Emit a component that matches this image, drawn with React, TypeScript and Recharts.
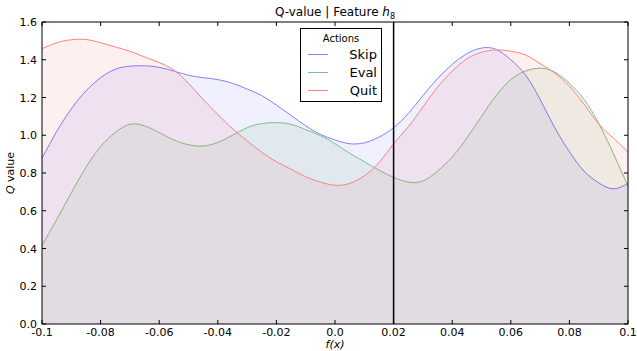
import { AreaChart, Area, XAxis, YAxis, ReferenceLine } from 'recharts';

const xs = [
  -0.1, -0.095, -0.09, -0.085, -0.08, -0.075, -0.07, -0.065, -0.06, -0.055, -0.05,
  -0.045, -0.04, -0.035, -0.03, -0.025, -0.02, -0.015, -0.01, -0.005, 0,
  0.005, 0.01, 0.015, 0.02, 0.025, 0.03, 0.035, 0.04, 0.045, 0.05,
  0.055, 0.06, 0.065, 0.07, 0.075, 0.08, 0.085, 0.09, 0.095, 0.1,
];
const skip = [
  0.878, 1.02, 1.14, 1.235, 1.305, 1.35, 1.366, 1.368, 1.36, 1.34, 1.318,
  1.305, 1.295, 1.275, 1.245, 1.21, 1.16, 1.105, 1.05, 1.005, 0.975,
  0.955, 0.96, 0.99, 1.04, 1.115, 1.21, 1.3, 1.375, 1.432, 1.462,
  1.455, 1.4, 1.32, 1.19, 1.04, 0.913, 0.81, 0.748, 0.716, 0.745,
];
const evalQ = [
  0.416, 0.553, 0.695, 0.83, 0.94, 1.015, 1.058, 1.05, 1.014, 0.975, 0.95,
  0.943, 0.962, 1.0, 1.04, 1.062, 1.067, 1.058, 1.03, 0.998, 0.955,
  0.905, 0.86, 0.815, 0.777, 0.752, 0.758, 0.81, 0.885, 0.985, 1.1,
  1.21, 1.295, 1.34, 1.355, 1.335, 1.275, 1.19, 1.063, 0.904, 0.73,
];
const quit = [
  1.459, 1.49, 1.506, 1.507, 1.49, 1.468, 1.445, 1.415, 1.385, 1.345, 1.275,
  1.19, 1.11, 1.035, 0.97, 0.91, 0.86, 0.82, 0.78, 0.752, 0.735,
  0.745, 0.785, 0.855, 0.955, 1.045, 1.15, 1.255, 1.34, 1.405, 1.44,
  1.452, 1.445, 1.425, 1.38, 1.33, 1.26, 1.165, 1.06, 0.985, 0.91,
];

const xTicks = [-0.1, -0.08, -0.06, -0.04, -0.02, 0, 0.02, 0.04, 0.06, 0.08, 0.1];
const xTickLabels = ['-0.1', '-0.08', '-0.06', '-0.04', '-0.02', '0.0', '0.02', '0.04', '0.06', '0.08', '0.1'];
const yTicks = [0, 0.2, 0.4, 0.6, 0.8, 1.0, 1.2, 1.4, 1.6];
const marker = 0.02;

const series = [
  { key: 'Skip', line: '#8080ff', fill: '#0000ff' },
  { key: 'Eval', line: '#80c080', fill: '#008000' },
  { key: 'Quit', line: '#ff8080', fill: '#ff0000' },
];

const data = xs.map((x, i) => ({ x, Skip: skip[i], Eval: evalQ[i], Quit: quit[i] }));

const FONT = '"DejaVu Sans", sans-serif';
const TICK_LEN = 4;

function xLabel(v: number) {
  const i = xTicks.findIndex((t) => Math.abs(t - v) < 1e-9);
  return i >= 0 ? xTickLabels[i] : String(v);
}

const BottomTick = (p: any) => (
  <text x={p.x} y={p.y + 9} textAnchor="middle" fontSize={11} fill="#000" fontFamily={FONT}>
    {xLabel(p.payload.value)}
  </text>
);

const LeftTick = (p: any) => (
  <text x={p.x} y={p.y + 4} textAnchor="end" fontSize={11} fill="#000" fontFamily={FONT}>
    {p.payload.value.toFixed(1)}
  </text>
);

// inward tick marks on both ends of a reference line (matplotlib style)
const VTickMarks = (p: any) => {
  const top = Math.min(p.y1, p.y2);
  const bottom = Math.max(p.y1, p.y2);
  return (
    <g>
      <path d={`M${p.x1},${top}V${top + TICK_LEN}`} stroke="#000" fill="none" />
      <path d={`M${p.x1},${bottom}V${bottom - TICK_LEN}`} stroke="#000" fill="none" />
    </g>
  );
};

const HTickMarks = (p: any) => {
  const left = Math.min(p.x1, p.x2);
  const right = Math.max(p.x1, p.x2);
  return (
    <g>
      <path d={`M${left},${p.y1}H${left + TICK_LEN}`} stroke="#000" fill="none" />
      <path d={`M${right},${p.y1}H${right - TICK_LEN}`} stroke="#000" fill="none" />
    </g>
  );
};

export default function App() {
  return (
    <div style={{ position: 'absolute', left: 0, top: 0, width: 637, height: 351, background: '#fff' }}>
      <AreaChart width={637} height={351} data={data} margin={{ top: 21, right: 8, bottom: 0, left: 0 }}>
        <XAxis
          dataKey="x"
          type="number"
          domain={[-0.1, 0.1]}
          ticks={xTicks}
          interval={0}
          height={27}
          tickSize={0}
          tickMargin={3}
          tickLine={false}
          stroke="#000"
          tick={BottomTick}
          label={(props: any) => {
            const vb = props.viewBox;
            return (
              <text x={vb.x + vb.width / 2} y={348} textAnchor="middle" fontSize={11} fontStyle="italic" fontFamily={FONT} fill="#000">
                f(x)
              </text>
            );
          }}
        />
        <XAxis
          xAxisId="top"
          orientation="top"
          dataKey="x"
          type="number"
          domain={[-0.1, 0.1]}
          ticks={xTicks}
          height={1}
          tickSize={0}
          tickLine={false}
          tick={false}
          stroke="#000"
          label={(props: any) => {
            const vb = props.viewBox;
            return (
              <text x={vb.x + vb.width / 2} y={16} textAnchor="middle" fontSize={12} fontFamily={FONT} fill="#000">
                Q-value | Feature <tspan fontStyle="italic">h</tspan>
                <tspan fontSize={8} dy={3}>8</tspan>
              </text>
            );
          }}
        />
        <YAxis
          type="number"
          domain={[0, 1.6]}
          ticks={yTicks}
          interval={0}
          width={42}
          tickSize={0}
          tickMargin={5}
          tickLine={false}
          stroke="#000"
          tick={LeftTick}
          label={(props: any) => {
            const vb = props.viewBox;
            const cy = vb.y + vb.height / 2;
            return (
              <text x={14} y={cy} transform={`rotate(-90 14 ${cy})`} textAnchor="middle" fontSize={11} fontFamily={FONT} fill="#000">
                <tspan fontStyle="italic">Q</tspan> value
              </text>
            );
          }}
        />
        <YAxis
          yAxisId="right"
          orientation="right"
          type="number"
          domain={[0, 1.6]}
          ticks={yTicks}
          width={1}
          tickSize={0}
          tickLine={false}
          tick={false}
          stroke="#000"
        />
        {series.map((s) => (
          <Area
            key={s.key}
            type="natural"
            dataKey={s.key}
            stroke={s.line}
            strokeWidth={1}
            fill={s.fill}
            fillOpacity={0.06}
            isAnimationActive={false}
            dot={false}
            activeDot={false}
          />
        ))}
        <Area
          xAxisId="top"
          yAxisId="right"
          type="natural"
          dataKey="Skip"
          stroke="none"
          fill="none"
          isAnimationActive={false}
          dot={false}
          activeDot={false}
          legendType="none"
        />
        {xTicks.map((t) => (
          <ReferenceLine key={`xt${t}`} x={t} stroke="#000" shape={VTickMarks} />
        ))}
        {yTicks.map((t) => (
          <ReferenceLine key={`yt${t}`} y={t} stroke="#000" shape={HTickMarks} />
        ))}
        <ReferenceLine x={marker} stroke="#000" strokeWidth={1.5} />
      </AreaChart>
      <div
        style={{
          position: 'absolute',
          left: 300,
          top: 28,
          width: 82,
          height: 74,
          border: '1px solid #000',
          background: '#fff',
          fontFamily: FONT,
          boxSizing: 'border-box',
        }}
      >
        <div style={{ textAlign: 'center', fontSize: 10, marginTop: 4, lineHeight: '12px' }}>Actions</div>
        {series.map((s) => (
          <div key={s.key} style={{ display: 'flex', alignItems: 'center', height: 18, padding: '0 4px 0 7px' }}>
            <div style={{ width: 20, height: 0, borderTop: `1.5px solid ${s.line}` }} />
            <div style={{ flex: 1, textAlign: 'right', fontSize: 13 }}>{s.key}</div>
          </div>
        ))}
      </div>
    </div>
  );
}
